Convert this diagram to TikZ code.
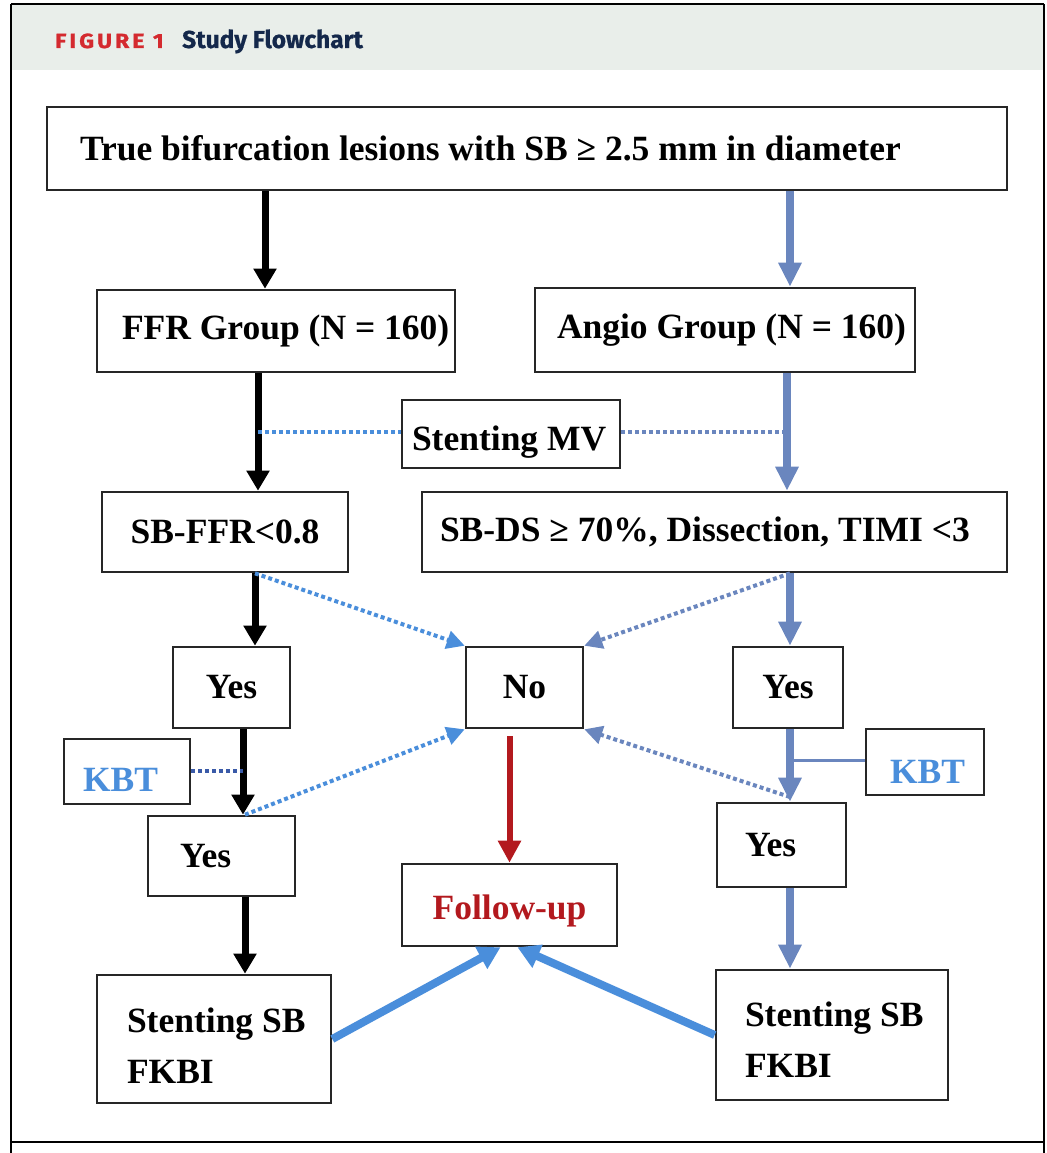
\documentclass[tikz,border=0pt]{standalone}
\usepackage{fontspec}
\setmainfont{Liberation Serif}
\newfontfamily\headfont[LetterSpace=15,FakeStretch=1.12,FakeBold=1.2]{Fira Sans}
\newfontfamily\titlefont[FakeBold=0.8]{Fira Sans}
\usetikzlibrary{arrows.meta}

\definecolor{bandbg}{HTML}{E9EEEA}
\definecolor{figred}{HTML}{D42A2F}
\definecolor{navy}{HTML}{14284B}
\definecolor{bgray}{HTML}{6A86BE}
\definecolor{lblue}{HTML}{4A8EDB}
\definecolor{dblue}{HTML}{3A5AA8}
\definecolor{fured}{HTML}{B3191E}

% box content of fixed width #1, text set #2 in from the left edge
\newcommand\padl[3]{\makebox[#1pt][l]{\hspace*{#2pt}#3}}
% invisible strut that pushes a single line of text down inside its box
\newcommand\pushdown[1]{\rule{0pt}{#1pt}}

\tikzset{
  box/.style={draw=black!85, line width=2.6pt, inner sep=0pt, fill=white,
    font=\fontsize{35.5}{51}\selectfont\bfseries},
  blk/.style={line width=7pt, draw=black, -{Triangle[width=22pt,length=20pt]}},
  gry/.style={line width=7.5pt, draw=bgray, -{Triangle[width=22pt,length=24pt]}},
  dotl/.style={line width=4pt, draw=lblue, dash pattern=on 4pt off 3pt},
  dotg/.style={line width=4pt, draw=bgray, dash pattern=on 4pt off 3pt},
  tipd/.style={-{Triangle[width=18pt,length=18pt]}},
  redarr/.style={line width=6pt, draw=fured, -{Triangle[width=22pt,length=22pt]}},
  thick blue/.style={line width=8pt, draw=lblue, -{Triangle[width=24pt,length=22pt]}},
}

\begin{document}
\begin{tikzpicture}[x=1pt,y=-1pt]
\useasboundingbox (0,0) rectangle (1046,1153);

% page frame and title band
\fill[bandbg] (11,4) rectangle (1044,70);
\draw[line width=2.5pt] (11,4) -- (1044,4);
\draw[line width=1.5pt] (11,4) -- (11,1153);
\draw[line width=1.5pt] (1044,4) -- (1044,1153);
\draw[line width=2.5pt] (11,1142) -- (1044,1142);

\node[anchor=base west, inner sep=0pt, text=figred,
      font=\headfont\bfseries\fontsize{20.5}{20.5}\selectfont] (figno) at (55,48) {FIGURE 1};
\node[anchor=base west, inner sep=0pt, text=navy,
      font=\titlefont\bfseries\fontsize{24.5}{24.5}\selectfont] (figtitle) at (182,48) {Study Flowchart};

% boxes
\node[box, minimum width=960, minimum height=83]
  (top) at (527,148.5) {\padl{960}{33}{True bifurcation lesions with SB ≥ 2.5 mm in diameter}};
\node[box, minimum width=358, minimum height=82]
  (ffr) at (276,331) {\padl{358}{25}{FFR Group (N = 160)}};
\node[box, minimum width=380, minimum height=84]
  (angio) at (725,330) {\padl{380}{22}{Angio Group (N = 160)}};
\node[box, minimum width=218, minimum height=68]
  (smv) at (511,434) {\padl{218}{10}{\pushdown{40}Stenting MV}};
\node[box, minimum width=246, minimum height=80] (sbffr) at (225,532) {SB-FFR<0.8};
\node[box, minimum width=585, minimum height=80]
  (sbds) at (714.5,532) {\padl{585}{18}{SB-DS ≥ 70\%, Dissection, TIMI <3}};
\node[box, minimum width=117, minimum height=81] (yesL) at (231.5,687.5) {Yes};
\node[box, minimum width=117, minimum height=81] (no) at (524.5,687.5) {No};
\node[box, minimum width=110, minimum height=81] (yesR) at (788,687.5) {Yes};
\node[box, minimum width=126, minimum height=65, text=lblue]
  (kbtL) at (127,771.5) {\padl{126}{19}{\pushdown{40}KBT}};
\node[box, minimum width=147, minimum height=80]
  (yesL2) at (221.5,856) {\padl{147}{32}{Yes}};
\node[box, minimum width=118, minimum height=66, text=lblue]
  (kbtR) at (925,762) {\padl{118}{24}{\pushdown{43}KBT}};
\node[box, minimum width=129, minimum height=84]
  (yesR2) at (781.5,845) {\padl{129}{28}{Yes}};
\node[box, minimum width=215, minimum height=82, text=fured]
  (fu) at (509.5,905) {\pushdown{36}Follow-up};
\node[box, minimum width=234, minimum height=128]
  (ssbL) at (214,1039) {\padl{234}{30}{\begin{tabular}{@{}l@{}}\rule{0pt}{54pt}Stenting SB\\FKBI\end{tabular}}};
\node[box, minimum width=232, minimum height=130]
  (ssbR) at (832,1035) {\padl{232}{29}{\begin{tabular}{@{}l@{}}\rule{0pt}{50pt}Stenting SB\\FKBI\end{tabular}}};

% column guides for the vertical connectors
\coordinate (c1) at (265,0);
\coordinate (c2) at (258,0);
\coordinate (c3) at (255,0);
\coordinate (c4) at (243,0);
\coordinate (c5) at (245,0);
\coordinate (r1) at (790,0);
\coordinate (r2) at (787,0);
\coordinate (kbtlev) at (0,760);
\coordinate (mvlev) at (0,432);
\coordinate (dotlev) at (0,771);
\coordinate (lowlev) at (0,797);

% left column (FFR)
\draw[blk] (top.south -| c1) -- (ffr.north -| c1);
\draw[blk] (ffr.south -| c2) -- (sbffr.north -| c2);
\draw[blk] (sbffr.south -| c3) -- (yesL.north -| c3);
\draw[blk] (yesL.south -| c4) -- (yesL2.north -| c4);
\draw[blk] (yesL2.south -| c5) -- (ssbL.north -| c5);

% right column (Angio)
\draw[gry] (top.south -| r1) -- (angio.north -| r1);
\draw[gry] (angio.south -| r2) -- (sbds.north -| r2);
\draw[gry] (sbds.south -| r1) -- (yesR.north -| r1);
\draw[gry] (yesR.south -| r1) -- (yesR2.north -| r1);
\draw[gry] (yesR2.south -| r1) -- (ssbR.north -| r1);

% main-vessel stenting links
\draw[dotl] (mvlev -| c2) -- (smv.west |- mvlev);
\draw[dotg] (smv.east |- mvlev) -- (mvlev -| r2);

% KBT links
\draw[line width=4pt, draw=dblue, dash pattern=on 4pt off 3pt] (kbtL.east |- dotlev) -- (dotlev -| c4);
\draw[line width=3pt, draw=bgray] (kbtlev -| r1) -- (kbtR.west |- kbtlev);

% "No" branches
\draw[dotl, tipd] (sbffr.south -| c3) -- (no.north west);
\draw[dotg, tipd] (sbds.south -| r1) -- (no.north east);
\draw[dotl, tipd] (yesL2.north -| c5) -- (no.south west);
\draw[dotg, tipd] (lowlev -| r1) -- (no.south east);

% follow-up
\draw[redarr] ([yshift=-7pt]no.south -| fu.north) -- (fu.north);
\draw[thick blue] (ssbL.east) -- ([xshift=-9pt]fu.south);
\draw[thick blue] (ssbR.west) -- ([xshift=8pt]fu.south);

\end{tikzpicture}
\end{document}
